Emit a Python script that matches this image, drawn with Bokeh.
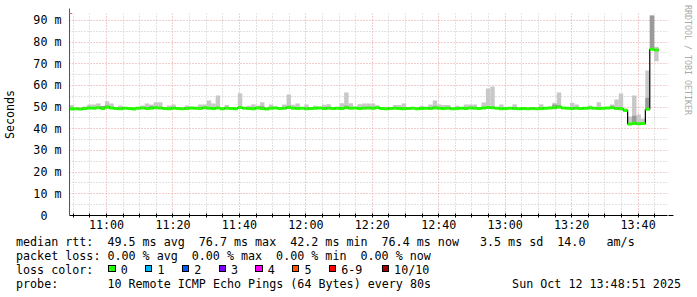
from datetime import datetime, timedelta
from bokeh.plotting import figure
from bokeh.models import (Range1d, FixedTicker, DatetimeTickFormatter, Arrow,
                          NormalHead, ColumnDataSource, Div)
from bokeh.layouts import column, row
from bokeh.embed import file_html
from bokeh.resources import INLINE

# ------------------------------------------------------------------ data
START = datetime(2025, 10, 12, 10, 48, 51)
STEP_SECONDS = 80
WINDOW_HOURS = 3

rtt_median = [
    49.2, 49.3, 49.1, 49.4, 49.6, 49.5, 49.7, 49.4, 50.0, 49.6,
    49.4, 49.3, 49.5, 49.4, 49.2, 49.5, 49.6, 49.4, 49.5, 49.7,
    49.6, 49.4, 49.3, 49.5, 49.4, 49.3, 49.4, 49.6, 49.5, 49.4,
    49.7, 49.5, 49.4, 49.6, 49.3, 49.5, 49.4, 49.3, 49.8, 49.5,
    49.4, 49.3, 49.6, 49.4, 49.2, 49.5, 49.6, 49.4, 49.5, 49.8,
    49.5, 49.4, 49.5, 49.3, 49.4, 49.5, 49.6, 49.4, 49.5, 49.4,
    49.5, 49.4, 49.7, 49.5, 49.6, 49.4, 49.5, 49.6, 49.5, 49.7,
    49.4, 49.3, 49.4, 49.5, 49.4, 49.3, 49.4, 49.5, 49.3, 49.4,
    49.5, 49.4, 49.6, 49.5, 49.4, 49.5, 49.3, 49.4, 49.5, 49.4,
    49.6, 49.5, 49.4, 49.6, 49.8, 49.7, 49.5, 49.3, 49.4, 49.5,
    49.4, 49.3, 49.4, 49.3, 49.4, 49.3, 49.4, 49.5, 49.6, 49.7,
    50.1, 49.6, 49.5, 49.4, 49.5, 49.4, 49.5, 49.6, 49.5, 49.4,
    49.5, 49.6, 49.7, 49.4, 49.3, 48.5, 42.2, 42.5, 42.3, 42.4,
    49.0, 76.7, 76.4,
]

smoke_hi = [
    51.0, 49.6, 49.4, 50.3, 51.2, 51.2, 51.7, 50.3, 52.7, 51.7,
    49.7, 50.8, 49.8, 49.7, 49.5, 49.8, 50.8, 51.7, 51.2, 52.3,
    52.3, 49.7, 50.8, 51.2, 49.7, 49.6, 50.8, 49.9, 49.8, 51.2,
    51.2, 53.1, 51.7, 55.4, 49.6, 51.0, 49.7, 49.6, 56.4, 49.8,
    50.6, 51.3, 50.8, 52.3, 49.5, 51.2, 50.3, 49.7, 51.2, 55.8,
    51.1, 51.7, 49.8, 51.2, 49.7, 50.6, 49.9, 51.1, 51.3, 49.7,
    49.8, 51.8, 56.8, 51.8, 49.9, 51.3, 51.7, 51.7, 51.7, 50.9,
    49.7, 49.6, 49.7, 51.0, 51.0, 51.7, 49.7, 49.8, 49.6, 50.6,
    49.8, 51.2, 53.1, 51.2, 51.0, 51.0, 49.6, 50.6, 49.8, 51.2,
    51.2, 51.2, 49.7, 52.1, 58.6, 59.5, 49.8, 51.2, 49.7, 49.8,
    51.3, 49.6, 49.7, 49.6, 49.7, 49.6, 51.3, 49.8, 50.3, 52.0,
    56.8, 49.9, 49.8, 52.0, 51.2, 49.7, 49.8, 50.8, 49.8, 52.3,
    49.8, 49.9, 51.2, 53.5, 56.3, 48.8, 45.7, 55.4, 46.6, 44.6,
    66.9, 92.3, 77.9,
]

smoke_dark = [
    49.2, 49.3, 49.1, 49.4, 49.6, 49.5, 49.7, 50.5, 50.8, 49.6,
    49.4, 49.3, 49.5, 49.4, 49.2, 49.5, 49.6, 49.4, 50.5, 49.7,
    49.6, 49.4, 49.3, 49.5, 49.4, 49.3, 49.4, 49.6, 49.5, 49.4,
    49.7, 49.5, 49.4, 49.6, 49.3, 49.5, 49.4, 49.3, 49.8, 49.5,
    49.4, 49.3, 49.6, 50.4, 49.2, 49.5, 49.6, 49.4, 49.5, 50.6,
    49.5, 49.4, 49.5, 49.3, 49.4, 49.5, 49.6, 49.4, 49.5, 49.4,
    49.5, 49.4, 50.6, 49.5, 49.6, 49.4, 49.5, 49.6, 49.5, 49.7,
    49.4, 49.3, 49.4, 49.5, 49.4, 49.3, 49.4, 49.5, 49.3, 49.4,
    49.5, 49.4, 50.5, 49.5, 49.4, 49.5, 49.3, 49.4, 49.5, 49.4,
    49.6, 49.5, 49.4, 49.6, 49.8, 49.7, 49.5, 49.3, 49.4, 49.5,
    49.4, 49.3, 49.4, 49.3, 49.4, 49.3, 49.4, 49.5, 49.6, 51.2,
    51.0, 49.6, 49.5, 49.4, 49.5, 49.4, 49.5, 49.6, 49.5, 49.4,
    49.5, 49.6, 50.6, 49.4, 49.3, 48.5, 42.2, 46.0, 42.3, 42.4,
    54.3, 92.3, 76.4,
]

smoke_lo = [
    49.2, 49.3, 49.1, 49.4, 49.6, 49.5, 49.7, 49.4, 50.0, 49.6,
    49.4, 49.3, 49.5, 49.4, 49.2, 49.5, 49.6, 49.4, 49.5, 49.7,
    49.6, 49.4, 49.3, 49.5, 49.4, 49.3, 49.4, 49.6, 49.5, 49.4,
    49.7, 49.5, 49.4, 49.6, 49.3, 49.5, 49.4, 49.3, 49.8, 49.5,
    49.4, 49.3, 49.6, 49.4, 49.2, 49.5, 49.6, 49.4, 49.5, 49.8,
    49.5, 49.4, 49.5, 49.3, 49.4, 49.5, 49.6, 49.4, 49.5, 49.4,
    49.5, 49.4, 49.7, 49.5, 49.6, 49.4, 49.5, 49.6, 49.5, 49.7,
    49.4, 49.3, 49.4, 49.5, 49.4, 49.3, 49.4, 49.5, 49.3, 49.4,
    49.5, 49.4, 49.6, 49.5, 49.4, 49.5, 49.3, 49.4, 49.5, 49.4,
    49.6, 49.5, 49.4, 49.6, 49.8, 49.7, 49.5, 49.3, 49.4, 49.5,
    49.4, 49.3, 49.4, 49.3, 49.4, 49.3, 49.4, 49.5, 49.6, 49.7,
    50.1, 49.6, 49.5, 49.4, 49.5, 49.4, 49.5, 49.6, 49.5, 49.4,
    49.5, 49.6, 49.7, 49.4, 49.3, 48.5, 42.2, 42.5, 42.3, 42.4,
    49.0, 76.7, 71.2,
]

y_tick_values = [0, 10, 20, 30, 40, 50, 60, 70, 80, 90]
y_tick_labels = ["0\u00a0\u00a0", "10 m", "20 m", "30 m", "40 m", "50 m",
                 "60 m", "70 m", "80 m", "90 m"]
x_major_times = ["11:00", "11:20", "11:40", "12:00", "12:20", "12:40",
                 "13:00", "13:20", "13:40"]

stat_rtt = ["median rtt:", "49.5 ms avg", "76.7 ms max", "42.2 ms min",
            "76.4 ms now", "3.5 ms sd", "14.0", "am/s"]
stat_rtt_cols = [0, 13, 26, 39, 52, 66, 77, 84]
stat_loss = ["packet loss:", "0.00 % avg", "0.00 % max", "0.00 % min", "0.00 % now"]
stat_loss_cols = [0, 13, 25, 37, 49]
loss_title = "loss color:"
loss_labels = ["0", "1", "2", "3", "4", "5", "6-9", "10/10"]
loss_colors = ["#26ff00", "#00b8ff", "#0059ff", "#7e00ff", "#ff00ff",
               "#ff5500", "#ff0000", "#a10000"]
probe_label = "probe:"
probe_text = "10 Remote ICMP Echo Pings (64 Bytes) every 80s"
stamp_text = "Sun Oct 12 13:48:51 2025"
watermark = "RRDTOOL / TOBI OETIKER"

# ------------------------------------------------------------------ helpers
EPOCH = datetime(1970, 1, 1)


def ms(dt):
    return (dt - EPOCH).total_seconds() * 1000.0


n = len(rtt_median)
assert len(smoke_hi) == n and len(smoke_dark) == n and len(smoke_lo) == n
END = START + timedelta(hours=WINDOW_HOURS)
t_left = [START + timedelta(seconds=STEP_SECONDS * i) for i in range(n)]
t_right = [START + timedelta(seconds=STEP_SECONDS * (i + 1)) for i in range(n)]

Y_TOP = 93.2
GREEN_HALF = 0.7

src = ColumnDataSource(dict(
    left=t_left, right=t_right,
    med=rtt_median, hi=smoke_hi, dark=smoke_dark, lo=smoke_lo,
    gb=[m - GREEN_HALF for m in rtt_median],
    gt=[m + GREEN_HALF for m in rtt_median],
))

FONT = "DejaVu Sans Mono"
FS = "11.7px"
CHAR_W = 7.03
TEXT_X0 = 16.0
FRAME_L, FRAME_T, FRAME_B = 67, 13, 215
MAIN_W, MAIN_H = 683, 235
TOTAL_W, TOTAL_H = 697, 297

# ------------------------------------------------------------------ figure
p = figure(width=MAIN_W, height=MAIN_H, x_axis_type="datetime",
           x_range=Range1d(START, END), y_range=Range1d(0, Y_TOP),
           output_backend="svg", toolbar_location=None,
           min_border_left=FRAME_L, min_border_right=MAIN_W - FRAME_L - 600,
           min_border_top=FRAME_T, min_border_bottom=MAIN_H - FRAME_B)
p.outline_line_color = None
p.background_fill_color = "white"
p.border_fill_color = "white"
p.margin = 0

# smoke
p.quad(left="left", right="right", bottom="lo", top="hi", source=src,
       fill_color="#c8c8c8", line_color=None)
p.quad(left="left", right="right", bottom="med", top="dark", source=src,
       fill_color="#9a9a9a", line_color=None)
# median trace
p.step(x=t_left + [t_right[-1]], y=rtt_median + [rtt_median[-1]], mode="after",
       line_color="#000000", line_width=1.2)
p.quad(left="left", right="right", bottom="gb", top="gt", source=src,
       fill_color="#26ff00", line_color=None)

# axes
day = START.date()
major_dt = [datetime.combine(day, datetime.strptime(s, "%H:%M").time()) for s in x_major_times]
major_ms = [ms(d) for d in major_dt]
minor_ms = []
t = datetime.combine(day, datetime.strptime("10:50", "%H:%M").time())
while t < END:
    if ms(t) not in major_ms and t > START:
        minor_ms.append(ms(t))
    t += timedelta(minutes=5)

p.xaxis.ticker = FixedTicker(ticks=major_ms, minor_ticks=minor_ms)
p.xaxis.formatter = DatetimeTickFormatter(minsec="%H:%M", minutes="%H:%M",
                                          hourmin="%H:%M", hours="%H:%M")
p.yaxis.ticker = FixedTicker(ticks=y_tick_values,
                             minor_ticks=[v + 5 for v in y_tick_values])
p.yaxis.major_label_overrides = {v: lab for v, lab in zip(y_tick_values, y_tick_labels)}

for ax in (p.xaxis, p.yaxis):
    ax.major_label_text_font = FONT
    ax.major_label_text_font_size = FS
    ax.major_label_text_color = "#000000"

p.xaxis.axis_line_color = "#000000"
p.xaxis.axis_line_width = 1
p.xaxis.major_tick_in = 2
p.xaxis.major_tick_out = 2
p.xaxis.minor_tick_in = 2
p.xaxis.minor_tick_out = 2
p.xaxis.major_tick_line_color = "#000000"
p.xaxis.minor_tick_line_color = "#000000"
p.xaxis.major_label_standoff = 0

p.yaxis.axis_line_color = "#555555"
p.yaxis.major_tick_in = 0
p.yaxis.major_tick_out = 0
p.yaxis.minor_tick_in = 0
p.yaxis.minor_tick_out = 0
p.yaxis.major_label_standoff = 8
p.yaxis.axis_label = "Seconds"
p.yaxis.axis_label_text_font = FONT
p.yaxis.axis_label_text_font_size = FS
p.yaxis.axis_label_text_font_style = "normal"
p.yaxis.axis_label_text_color = "#000000"
p.yaxis.axis_label_standoff = 13

# grid
for g in (p.xgrid, p.ygrid):
    g.grid_line_color = "#e29a9a"
    g.grid_line_dash = "1 2"
    g.grid_line_width = 1
    g.minor_grid_line_color = "#c4c4c4"
    g.minor_grid_line_dash = "1 2"
    g.minor_grid_line_width = 1

# axis arrows (RRDtool style)
px_per_ms_x = 600.0 / (WINDOW_HOURS * 3600 * 1000.0)
px_per_unit_y = (FRAME_B - FRAME_T) / Y_TOP
p.add_layout(Arrow(end=NormalHead(size=5, fill_color="#a01818", line_color="#a01818"),
                   x_start=ms(END), y_start=0, x_end=ms(END) + 6 / px_per_ms_x, y_end=0,
                   line_color="#000000", line_width=1))
p.add_layout(Arrow(end=NormalHead(size=5, fill_color="#a01818", line_color="#a01818"),
                   x_start=ms(START), y_start=Y_TOP, x_end=ms(START),
                   y_end=Y_TOP + 5 / px_per_unit_y,
                   line_color="#555555", line_width=1))

# ------------------------------------------------------------------ legend block (HTML)
LINE_TOPS = [0.0, 13.75, 27.85, 41.95]


def span(left, top, text):
    return (f'<span style="position:absolute;left:{left:.2f}px;top:{top:.2f}px;'
            f'white-space:pre;">{text}</span>')


parts = []
for s, c in zip(stat_rtt, stat_rtt_cols):
    parts.append(span(TEXT_X0 + c * CHAR_W, LINE_TOPS[0], s))
for s, c in zip(stat_loss, stat_loss_cols):
    parts.append(span(TEXT_X0 + c * CHAR_W, LINE_TOPS[1], s))
parts.append(span(TEXT_X0, LINE_TOPS[2], loss_title))
sq_left = [108.3 + k * 36.75 for k in range(7)] + [381.7]
for lab, l, col in zip(loss_labels, sq_left, loss_colors):
    parts.append(f'<span style="position:absolute;left:{l:.2f}px;top:30px;width:7.3px;'
                 f'height:7.3px;box-sizing:border-box;border:1px solid #000;'
                 f'background:{col};"></span>')
    parts.append(span(l + 12.4, LINE_TOPS[2], lab))
parts.append(span(TEXT_X0, LINE_TOPS[3], probe_label))
parts.append(span(TEXT_X0 + 13 * CHAR_W, LINE_TOPS[3], probe_text))
parts.append(f'<span style="position:absolute;right:{MAIN_W - 681}px;top:{LINE_TOPS[3]}px;'
             f'white-space:pre;">{stamp_text}</span>')

legend_html = (f'<div style="position:relative;width:{MAIN_W}px;height:{TOTAL_H - MAIN_H}px;'
               f"font-family:'{FONT}';font-size:{FS};line-height:14px;color:#000;"
               f'margin:0;padding:0;">' + "".join(parts) + "</div>")
legend = Div(text=legend_html, width=MAIN_W, height=TOTAL_H - MAIN_H, margin=0)

wm_html = (f'<div style="position:relative;width:{TOTAL_W - MAIN_W}px;height:{TOTAL_H}px;'
           f'margin:0;padding:0;"><span style="position:absolute;left:0px;top:5px;'
           f"writing-mode:vertical-rl;font-family:'{FONT}';font-size:8.3px;"
           f'line-height:10px;color:#aaaaaa;white-space:pre;">{watermark}</span></div>')
wm = Div(text=wm_html, width=TOTAL_W - MAIN_W, height=TOTAL_H, margin=0)

layout = row(column(p, legend, spacing=0), wm, spacing=0)
open("out.html", "w").write(file_html(layout, INLINE))
